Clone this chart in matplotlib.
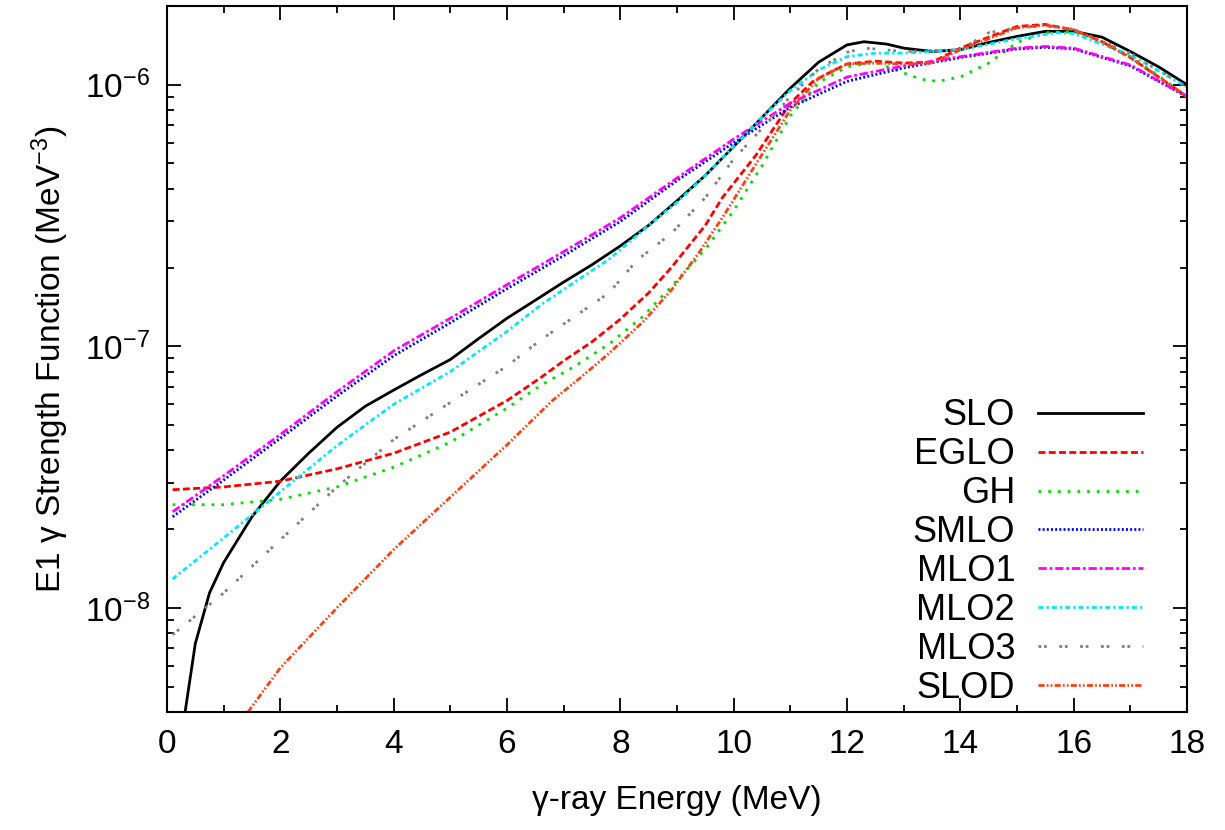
import math

import matplotlib.pyplot as plt
from matplotlib.ticker import FuncFormatter

plt.rcParams['font.family'] = ['Liberation Sans', 'DejaVu Sans']
plt.rcParams['mathtext.fontset'] = 'custom'
plt.rcParams['mathtext.rm'] = 'Liberation Sans'
plt.rcParams['mathtext.it'] = 'Liberation Sans:italic'

# x grids (MeV) and values (MeV^-3)
x_slo = [0.32, 0.5, 0.75, 1, 1.5, 2, 2.5, 3, 3.5, 4, 4.5, 5, 5.5, 6, 6.5, 7, 7.5, 8, 8.5, 9, 9.5, 10, 10.5, 11, 11.5, 12, 12.3, 12.7, 13, 13.5, 14, 14.5, 15, 15.5, 16, 16.5, 17, 17.5, 18]
slo = [4.0e-9, 7.3e-9, 1.14e-8, 1.49e-8, 2.23e-8, 3.05e-8, 3.9e-8, 4.9e-8, 5.9e-8, 6.8e-8, 7.8e-8, 8.9e-8, 1.07e-7, 1.28e-7, 1.5e-7, 1.76e-7, 2.05e-7, 2.42e-7, 2.9e-7, 3.6e-7, 4.5e-7, 5.8e-7, 7.5e-7, 9.7e-7, 1.22e-6, 1.42e-6, 1.46e-6, 1.43e-6, 1.38e-6, 1.34e-6, 1.36e-6, 1.45e-6, 1.53e-6, 1.6e-6, 1.6e-6, 1.52e-6, 1.34e-6, 1.17e-6, 1.0e-6]

x_eglo = [0.1, 1, 2, 3, 4, 5, 6, 6.6, 7, 7.5, 8, 8.5, 8.9, 9.5, 9.8, 10.4, 11, 11.4, 11.75, 12, 12.5, 13, 13.5, 14, 14.5, 15, 15.5, 16, 16.5, 17, 17.5, 18]
eglo = [2.83e-8, 2.9e-8, 3.05e-8, 3.4e-8, 3.9e-8, 4.7e-8, 6.2e-8, 7.6e-8, 8.8e-8, 1.04e-7, 1.27e-7, 1.6e-7, 2.0e-7, 2.9e-7, 3.7e-7, 5.4e-7, 8.5e-7, 1.03e-6, 1.13e-6, 1.2e-6, 1.23e-6, 1.21e-6, 1.22e-6, 1.38e-6, 1.52e-6, 1.67e-6, 1.7e-6, 1.62e-6, 1.46e-6, 1.27e-6, 1.07e-6, 0.9e-6]

x_gh = [0.1, 1, 2, 3, 4, 5, 6, 6.6, 7.2, 7.8, 8.4, 8.9, 9.5, 10, 10.5, 11, 11.5, 12, 12.5, 12.9, 13.3, 13.6, 14, 14.5, 15, 15.5, 16, 16.5, 17, 17.5, 18]
gh = [2.48e-8, 2.48e-8, 2.6e-8, 2.9e-8, 3.45e-8, 4.3e-8, 5.8e-8, 7.1e-8, 8.4e-8, 1.02e-7, 1.3e-7, 1.69e-7, 2.35e-7, 3.3e-7, 4.9e-7, 7.6e-7, 1.02e-6, 1.17e-6, 1.22e-6, 1.13e-6, 1.05e-6, 1.03e-6, 1.07e-6, 1.21e-6, 1.45e-6, 1.58e-6, 1.6e-6, 1.47e-6, 1.28e-6, 1.08e-6, 0.9e-6]

x_mlo = [0.1, 1, 2, 3, 4, 5, 6, 7, 8, 9, 10, 11, 12, 13, 14, 15, 15.5, 16, 17, 18]
smlo = [2.23e-8, 3.08e-8, 4.45e-8, 6.45e-8, 9.2e-8, 1.23e-7, 1.66e-7, 2.22e-7, 3.0e-7, 4.3e-7, 6.0e-7, 8.2e-7, 1.03e-6, 1.16e-6, 1.27e-6, 1.37e-6, 1.39e-6, 1.37e-6, 1.18e-6, 0.9e-6]
mlo1 = [2.33e-8, 3.2e-8, 4.6e-8, 6.7e-8, 9.6e-8, 1.28e-7, 1.72e-7, 2.3e-7, 3.1e-7, 4.4e-7, 6.2e-7, 8.5e-7, 1.07e-6, 1.18e-6, 1.28e-6, 1.38e-6, 1.4e-6, 1.38e-6, 1.19e-6, 0.9e-6]

x_mlo2 = [0.1, 1, 2, 3, 4, 5, 6, 6.6, 7, 7.8, 8.5, 9, 9.5, 10, 10.5, 11, 11.5, 12, 12.5, 13, 14, 15, 15.7, 16, 17, 18]
mlo2 = [1.29e-8, 1.85e-8, 2.78e-8, 4.17e-8, 6.0e-8, 8.0e-8, 1.14e-7, 1.44e-7, 1.65e-7, 2.15e-7, 2.9e-7, 3.55e-7, 4.5e-7, 5.8e-7, 7.5e-7, 9.5e-7, 1.14e-6, 1.28e-6, 1.32e-6, 1.32e-6, 1.36e-6, 1.5e-6, 1.58e-6, 1.57e-6, 1.3e-6, 0.98e-6]

x_mlo3 = [0.1, 1, 2, 3, 4, 5, 6, 6.6, 7.8, 8.3, 8.9, 9.5, 10, 10.5, 11, 11.5, 12, 12.3, 12.5, 13, 14, 14.5, 15, 15.5, 16, 17, 18]
mlo3 = [7.9e-9, 1.14e-8, 1.82e-8, 2.9e-8, 4.4e-8, 6.1e-8, 8.4e-8, 1.06e-7, 1.6e-7, 2.14e-7, 2.7e-7, 3.7e-7, 5.2e-7, 6.8e-7, 9.0e-7, 1.15e-6, 1.33e-6, 1.38e-6, 1.37e-6, 1.34e-6, 1.36e-6, 1.58e-6, 1.65e-6, 1.68e-6, 1.63e-6, 1.32e-6, 0.98e-6]

x_slod = [1.43, 2, 3, 4, 5, 6, 6.8, 7.3, 7.8, 8.4, 8.9, 9.4, 9.8, 10.4, 11, 11.5, 12, 12.5, 13, 13.5, 14, 14.5, 15, 15.5, 16, 16.5, 17, 17.5, 18]
slod = [4.0e-9, 5.9e-9, 1.0e-8, 1.67e-8, 2.65e-8, 4.2e-8, 6.2e-8, 7.6e-8, 9.4e-8, 1.24e-7, 1.64e-7, 2.3e-7, 3.1e-7, 5.0e-7, 8.0e-7, 1.06e-6, 1.2e-6, 1.21e-6, 1.2e-6, 1.21e-6, 1.36e-6, 1.5e-6, 1.65e-6, 1.69e-6, 1.62e-6, 1.46e-6, 1.27e-6, 1.07e-6, 0.9e-6]


def decade_label(v, pos):
    return '10$^{%d}$' % round(math.log10(v))


fig = plt.figure(figsize=(12.25, 8.3), dpi=100)
ax = fig.add_axes([0.1363, 0.1422, 0.8327, 0.8506])

lw = 2
ax.plot(x_slo, slo, color='black', lw=lw, label='SLO')
ax.plot(x_eglo, eglo, color='#ff0000', lw=lw, dashes=(2.5, 1.2), label='EGLO')
ax.plot(x_gh, gh, color='#00e000', lw=lw, dashes=(1, 2.5), label='GH')
ax.plot(x_mlo, smlo, color='#0000ff', lw=lw, dashes=(0.7, 0.8), label='SMLO')
ax.plot(x_mlo, mlo1, color='#ff00ff', lw=lw, dashes=(3, 1, 1, 1), label='MLO1')
ax.plot(x_mlo2, mlo2, color='#00e8ff', lw=lw, dashes=(1.8, 1.1, 0.8, 1.1), label='MLO2')
ax.plot(x_mlo3, mlo3, color='#808080', lw=lw, dashes=(1, 1, 1, 4.5), label='MLO3')
ax.plot(x_slod, slod, color='#ff4010', lw=lw, dashes=(2.2, 0.8, 0.6, 0.8, 0.6, 0.8), label='SLOD')

ax.set_yscale('log')
ax.set_xlim(0, 18)
ax.set_ylim(4e-9, 2e-6)
ax.set_xticks(range(0, 19, 2))
ax.set_xticks(range(1, 18, 2), minor=True)
ax.yaxis.set_major_formatter(FuncFormatter(decade_label))
ax.tick_params(which='both', direction='in', top=True, right=True, labelsize=24, pad=12)
ax.tick_params(which='major', length=10, width=1.3)
ax.tick_params(which='minor', length=5, width=1.3)
for s in ax.spines.values():
    s.set_linewidth(1.5)

ax.set_xlabel('γ-ray Energy (MeV)', fontsize=24, labelpad=18)
ax.set_ylabel('E1 γ Strength Function (MeV$^{-3}$)', fontsize=24, labelpad=10)

leg = ax.legend(loc='lower right', fontsize=26, frameon=False, markerfirst=False,
                handlelength=2.9, handletextpad=0.64, labelspacing=0.11,
                borderaxespad=0.0, bbox_to_anchor=(0.971, -0.012))
for t in leg.get_texts():
    t.set_ha('right')

fig.savefig('out.png', dpi=100)
